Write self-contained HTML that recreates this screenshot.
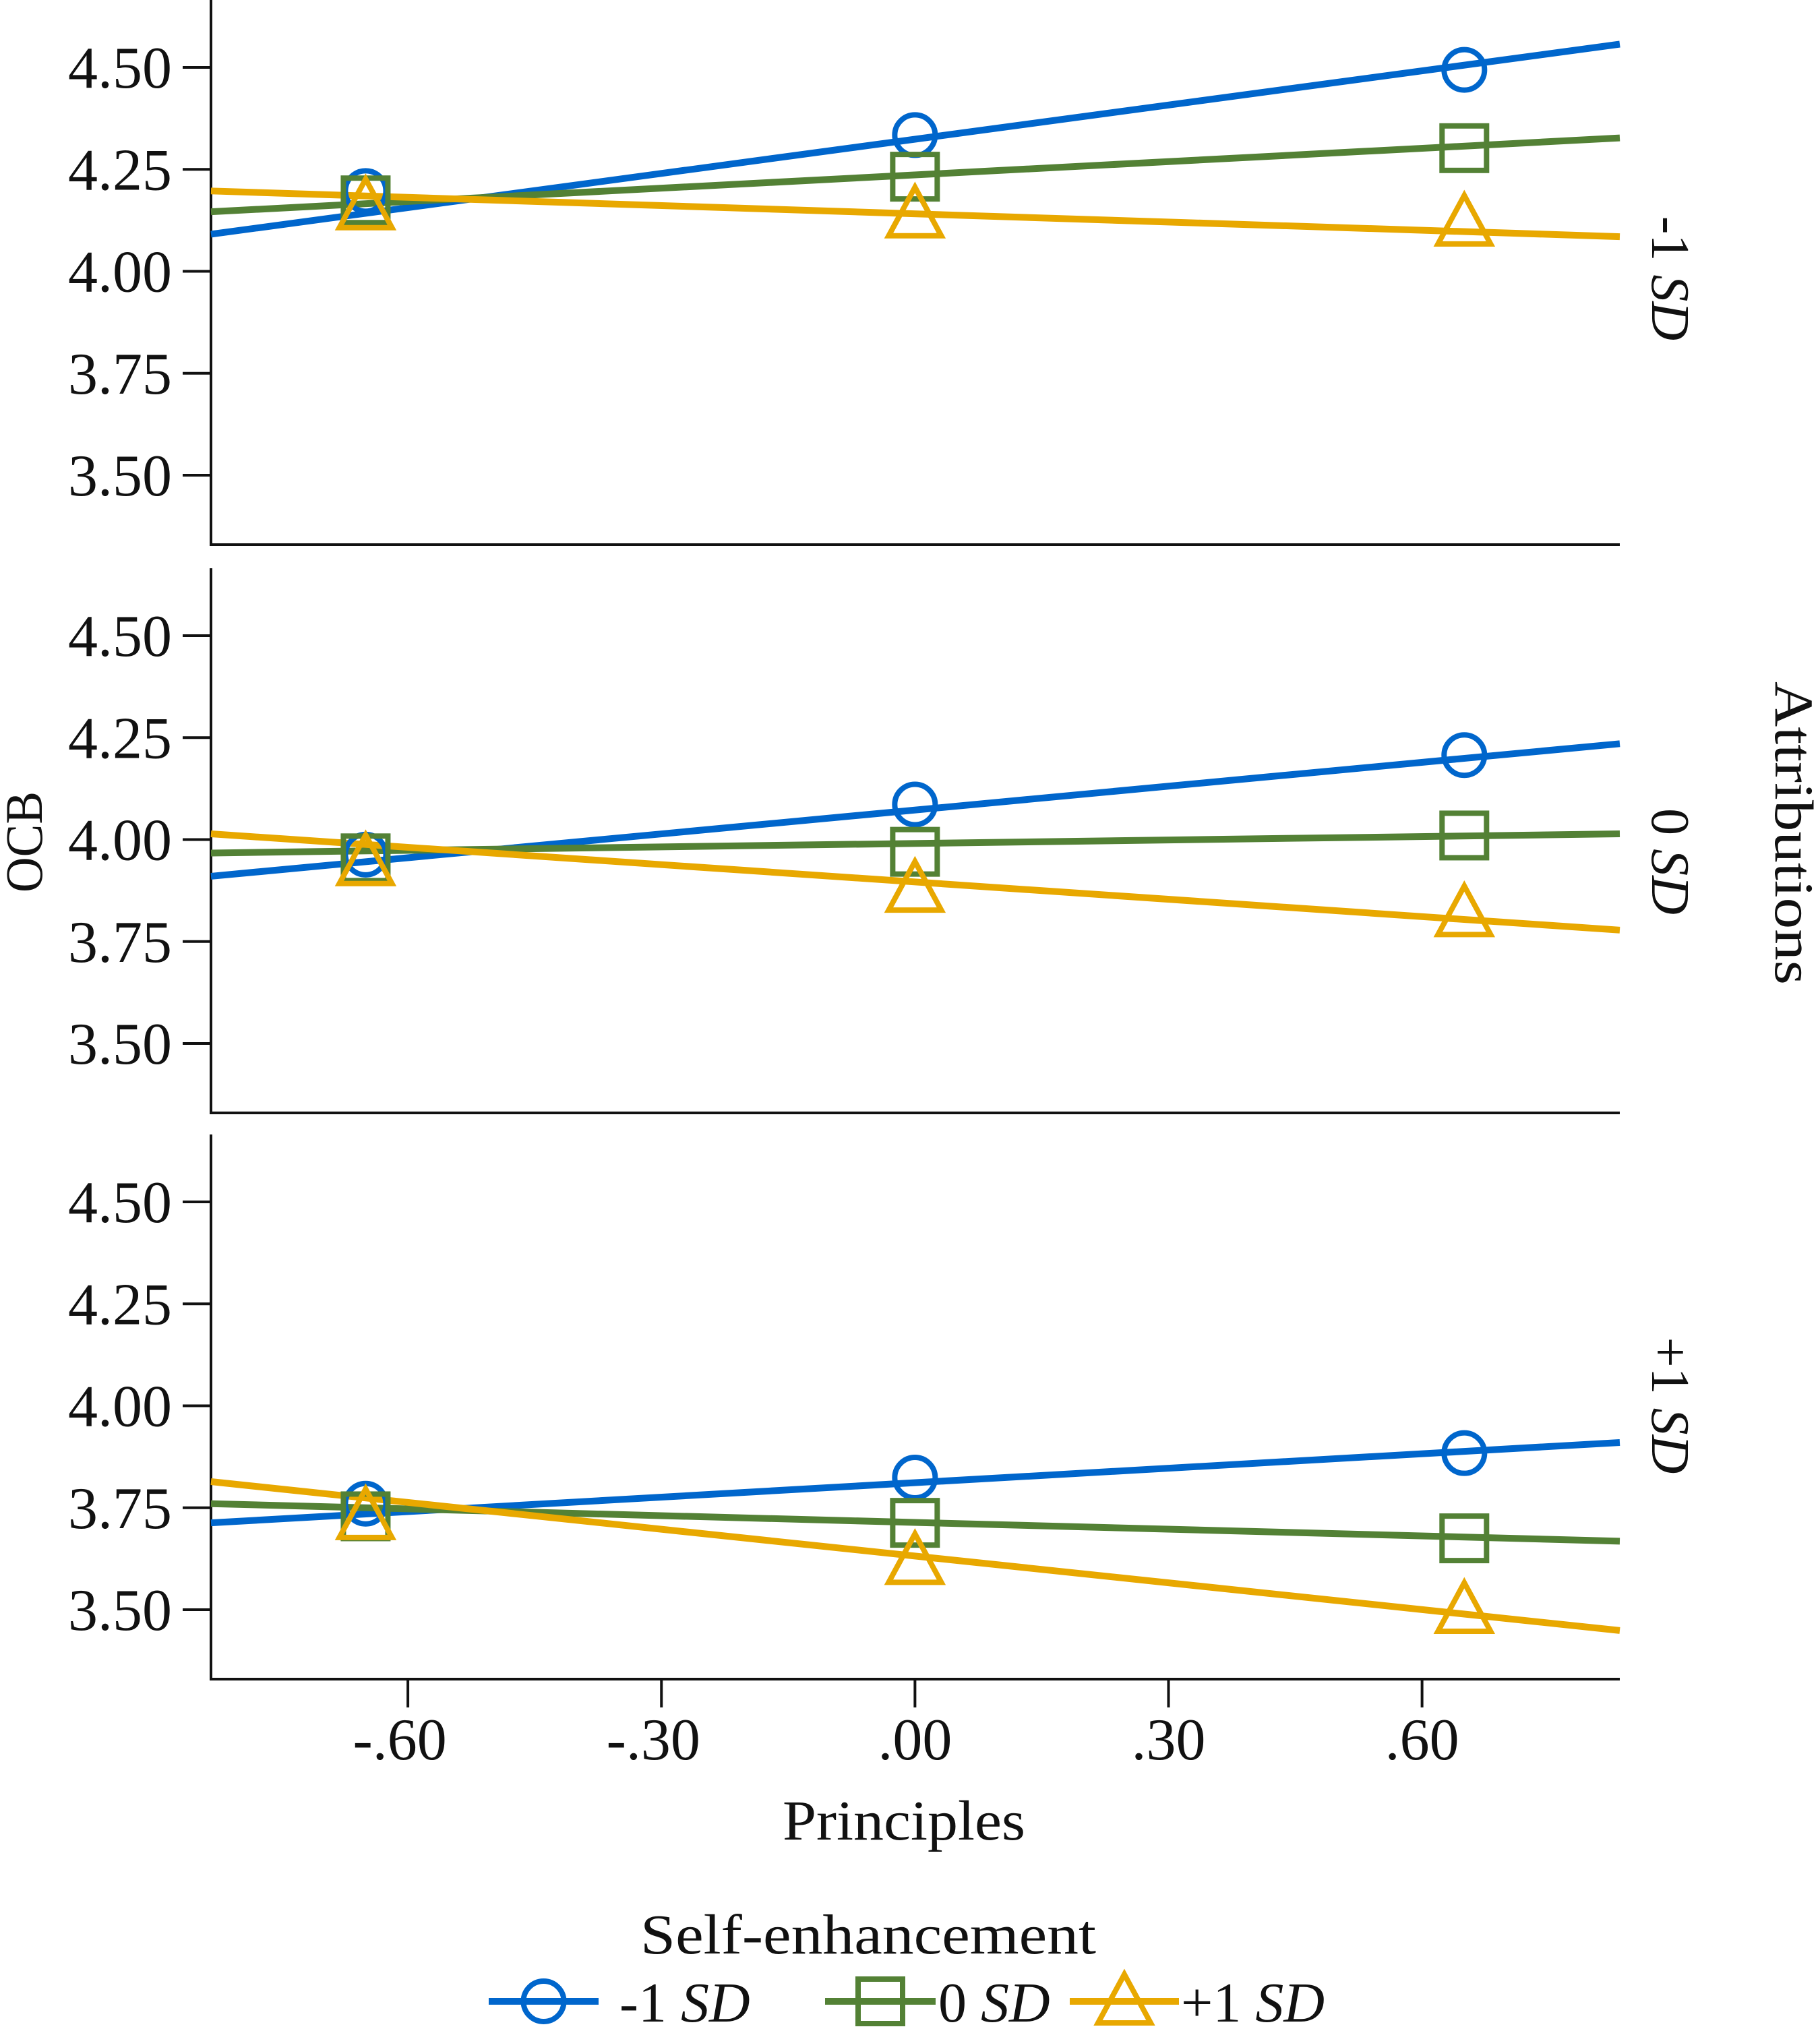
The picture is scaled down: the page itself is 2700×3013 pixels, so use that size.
<!DOCTYPE html>
<html><head><meta charset="utf-8"><style>
html,body{margin:0;padding:0;background:#fff;}
svg{display:block;font-family:"Liberation Serif",serif;}
</style></head><body>
<svg id="chart" width="2700" height="3013" viewBox="0 0 2700 3013" xmlns="http://www.w3.org/2000/svg"></svg>
<script>
// ---- data ----
const facetLabels = ["-1", "0", "+1"];
const seriesNames = ["-1", "0", "+1"];
const xPoints = [-0.65, 0.0, 0.65];
const xTicks = [-0.60, -0.30, 0.00, 0.30, 0.60];
const xTickLabels = ["-.60", "-.30", ".00", ".30", ".60"];
const yTicks = [3.50, 3.75, 4.00, 4.25, 4.50];
const yTickLabels = ["3.50", "3.75", "4.00", "4.25", "4.50"];
// marker values [facet][series][point]
const pointsLow = [[4.197, 4.334, 4.494],[4.174, 4.232, 4.302],[4.16, 4.14, 4.12]];
const pointsMid = [[3.963, 4.086, 4.207],[3.954, 3.970, 4.010],[3.945, 3.880, 3.820]];
const pointsHigh = [[3.760, 3.824, 3.884],[3.729, 3.713, 3.675],[3.730, 3.620, 3.500]];
// regression line values at axis left / right [facet][series]
const lineLeft = [[4.091, 4.146, 4.197],[3.910, 3.967, 4.014],[3.713, 3.760, 3.814]];
const lineRight = [[4.557, 4.327, 4.085],[4.235, 4.014, 3.778],[3.910, 3.668, 3.449]];
const allPoints = [pointsLow, pointsMid, pointsHigh];

// ---- layout ----
const NS = "http://www.w3.org/2000/svg";
const svg = document.getElementById("chart");
const colors = ["#0066cc", "#538135", "#e8a800"];
const X0 = 313, X1 = 2403, xMin = -0.833, xMax = 0.834;
const panelTops = [0, 843, 1683];
const panelH = 808;
function xs(v){ return X0 + (v - xMin) / (xMax - xMin) * (X1 - X0); }
function ys(p, v){ return panelTops[p] + 100 + (4.5 - v) * 605; }
function mk(tag, attrs, parent){
  const e = document.createElementNS(NS, tag);
  for (const k in attrs) e.setAttribute(k, attrs[k]);
  (parent || svg).appendChild(e);
  return e;
}
function marker(s, cx, cy, g){
  let m;
  if (s === 0) m = mk("circle", {cx:cx, cy:cy, r:30, fill:"none", stroke:colors[0], "stroke-width":8}, g);
  else if (s === 1) m = mk("rect", {x:cx-33, y:cy-33, width:66, height:66, fill:"none", stroke:colors[1], "stroke-width":8}, g);
  else m = mk("polygon", {points:`${cx},${cy-40} ${cx+39},${cy+32} ${cx-39},${cy+32}`, fill:"none", stroke:colors[2], "stroke-width":8}, g);
  return m;
}

for (let p = 0; p < 3; p++){
  const g = mk("g", {});
  
  
  const top = panelTops[p], bot = top + panelH;
  const ax = mk("path", {d:`M${X0},${top} L${X0},${bot} L${X1},${bot}`, fill:"none", stroke:"#111", "stroke-width":4}, g);
  
  
  yTicks.forEach((t, i) => {
    const y = ys(p, t);
    const tk = mk("line", {x1:X0-42, x2:X0, y1:y, y2:y, stroke:"#111", "stroke-width":4}, g);
    
    
    const tl = mk("text", {x:255, y:y+30, "text-anchor":"end", "font-size":88, fill:"#111"}, g);
    tl.textContent = yTickLabels[i];
    
    
  });
  for (let s = 0; s < 3; s++){
    const ln = mk("line", {x1:xs(xMin), y1:ys(p, lineLeft[p][s]), x2:xs(xMax), y2:ys(p, lineRight[p][s]), stroke:colors[s], "stroke-width":10}, g);
    
    
  }
  for (let s = 0; s < 3; s++){
    xPoints.forEach((xv, i) => {
      const m = marker(s, xs(xv), ys(p, allPoints[p][s][i]), g);
      
      
    });
  }
  const cy = top + [413, 435, 402][p];
  const fl = mk("text", {x:2479, y:cy, "text-anchor":"middle", "font-size":80, fill:"#111", transform:`rotate(90 2479 ${cy}) translate(0 28)`}, g);
  
  
  const t1 = mk("tspan", {}, fl); t1.textContent = facetLabels[p] + " ";
  const t2 = mk("tspan", {"font-style":"italic"}, fl); t2.textContent = "SD";
}
// x axis ticks on bottom panel
const xb = panelTops[2] + panelH;
xTicks.forEach((t, i) => {
  const x = xs(t);
  const tk = mk("line", {x1:x, x2:x, y1:xb, y2:xb+42, stroke:"#111", "stroke-width":4});
  
  
  const tl = mk("text", {x:x - (t < 0 ? 12 : 0), y:2610, "text-anchor":"middle", "font-size":88, fill:"#111"});
  tl.textContent = xTickLabels[i];
  
  
});
let t;
t = mk("text", {x:1341, y:2729, "text-anchor":"middle", "font-size":84, fill:"#111", textLength:360, lengthAdjust:"spacingAndGlyphs"});
t.textContent = "Principles";


t = mk("text", {x:35, y:1249, "text-anchor":"middle", "font-size":78, fill:"#111", transform:"rotate(-90 35 1249) translate(0 27)", textLength:150, lengthAdjust:"spacingAndGlyphs"});
t.textContent = "OCB";


t = mk("text", {x:2662, y:1236, "text-anchor":"middle", "font-size":82, fill:"#111", transform:"rotate(90 2662 1236) translate(0 28)", textLength:450, lengthAdjust:"spacingAndGlyphs"});
t.textContent = "Attributions";


t = mk("text", {x:1288, y:2898, "text-anchor":"middle", "font-size":84, fill:"#111", textLength:676, lengthAdjust:"spacingAndGlyphs"});
t.textContent = "Self-enhancement";


// legend
const legLine = [[725, 888], [1224, 1388], [1587, 1749]];
const legText = [919, 1392, 1752];
const legY = 2969;
for (let s = 0; s < 3; s++){
  const g = mk("g", {});
  
  
  mk("line", {x1:legLine[s][0], x2:legLine[s][1], y1:legY, y2:legY, stroke:colors[s], "stroke-width":10}, g);
  marker(s, (legLine[s][0] + legLine[s][1]) / 2, legY, g);
  const tx = mk("text", {x:legText[s], y:legY+30, "font-size":84, fill:"#111"}, g);
  const a = mk("tspan", {}, tx); a.textContent = seriesNames[s] + " ";
  const b = mk("tspan", {"font-style":"italic"}, tx); b.textContent = "SD";
}
</script>
</body></html>
